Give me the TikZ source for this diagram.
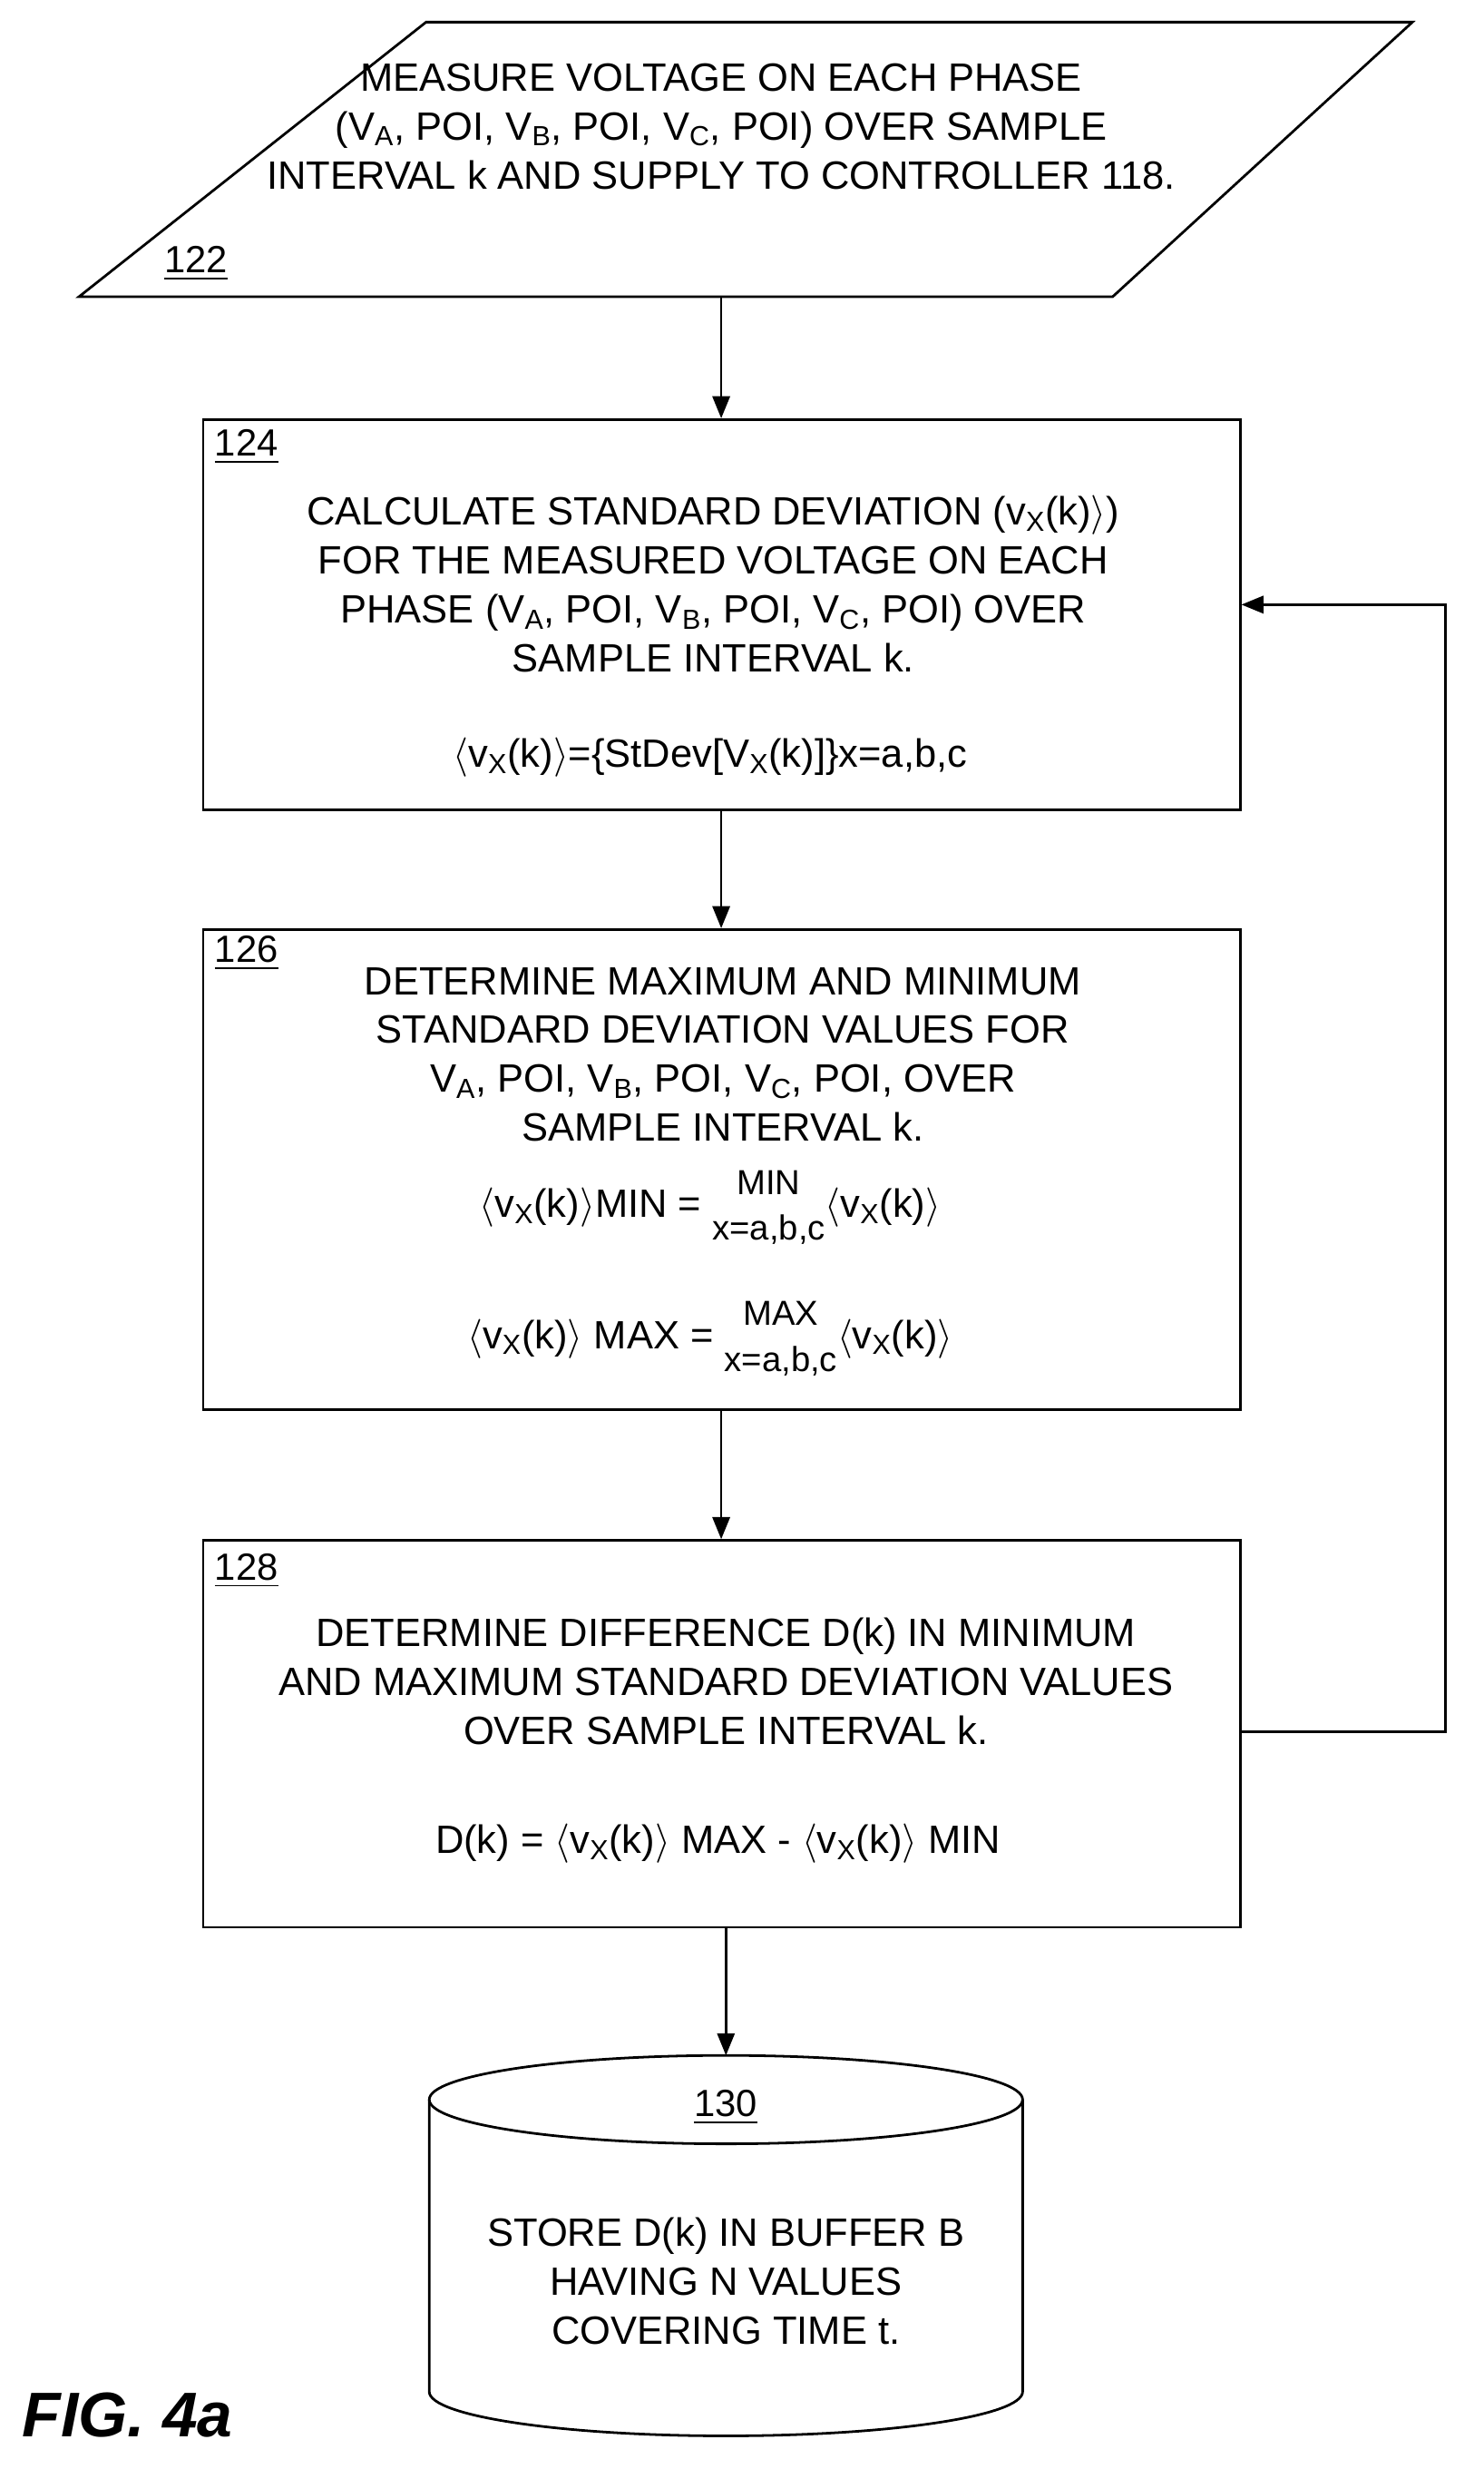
\documentclass[tikz,border=0pt]{standalone}
\usepackage{amsmath}
\usepackage{fontspec}
\setmainfont{Liberation Sans}
\usetikzlibrary{arrows.meta,shapes.geometric}
\newcommand{\sbs}[1]{\textsubscript{#1}}
\newcommand{\la}{$\langle$}
\newcommand{\ra}{$\rangle$}
\newcommand{\opx}[1]{\begin{tabular}{@{}c@{}}\fontsize{22}{20}\selectfont #1\\[-2pt]\fontsize{22}{20}\selectfont x=a,b,c\end{tabular}}
\begin{document}
\begin{tikzpicture}[x=1pt,y=-1pt,
  line width=1.6pt,
  txt/.style={font=\fontsize{25}{31}\selectfont,align=center,anchor=center},
  lbl/.style={font=\fontsize{24}{28}\selectfont,anchor=west},
  arr/.style={-{Triangle[length=14pt,width=11pt]}},
  box/.style={draw,fill=white}]
\useasboundingbox (0,0) rectangle (940,1564);
% 122
\draw (270,14) coordinate (p1) -- (895,14) -- (705,188) -- (50,188) -- cycle;
\node[txt] (t122) at (457,80) {MEASURE VOLTAGE ON EACH PHASE\\(V\sbs{A}, POI, V\sbs{B}, POI, V\sbs{C}, POI) OVER SAMPLE\\INTERVAL k AND SUPPLY TO CONTROLLER 118.};
\node[lbl] (l122) at (100,167) {\underline{122}};
\coordinate (b122) at (457,188);
% 124
\node[box,minimum width=657pt,minimum height=247pt,anchor=north west] (n124) at (128,265) {};
\node[lbl] (l124) at (132,283) {\underline{124}};
\node[txt] (t124) at (452,370) {CALCULATE STANDARD DEVIATION (v\sbs{X}(k)\ra)\\FOR THE MEASURED VOLTAGE ON EACH\\PHASE (V\sbs{A}, POI, V\sbs{B}, POI, V\sbs{C}, POI) OVER\\SAMPLE INTERVAL k.};
\node[txt] (f124) at (450,480) {\la v\sbs{X}(k)\ra=\{StDev[V\sbs{X}(k)]\}x=a,b,c};
% 126
\node[box,minimum width=657pt,minimum height=304pt,anchor=north west] (n126) at (128,588) {};
\node[lbl] (l126) at (132,604) {\underline{126}};
\node[txt] (t126) at (458,668) {DETERMINE MAXIMUM AND MINIMUM\\STANDARD DEVIATION VALUES FOR\\V\sbs{A}, POI, V\sbs{B}, POI, V\sbs{C}, POI, OVER\\SAMPLE INTERVAL k.};
\node[txt] (f126a) at (450,765) {\la v\sbs{X}(k)\ra MIN = \opx{MIN}\la v\sbs{X}(k)\ra};
\node[txt] (f126b) at (450,848) {\la v\sbs{X}(k)\ra\ MAX = \opx{MAX}\la v\sbs{X}(k)\ra};
% 128
\node[box,minimum width=657pt,minimum height=245pt,anchor=north west] (n128) at (128,975) {};
\node[lbl] (l128) at (132,995) {\underline{128}};
\node[txt] (t128) at (460,1065) {DETERMINE DIFFERENCE D(k) IN MINIMUM\\AND MAXIMUM STANDARD DEVIATION VALUES\\OVER SAMPLE INTERVAL k.};
\node[txt] (f128) at (455,1168) {D(k) = \la v\sbs{X}(k)\ra\ MAX - \la v\sbs{X}(k)\ra\ MIN};
% 130 cylinder
\draw[fill=white] (272,1330) -- (272,1515) arc[start angle=180,end angle=0,x radius=188,y radius=28] -- (648,1330);
\draw (460,1330) ellipse[x radius=188,y radius=28];
\coordinate (c130) at (460,1302);
\node[lbl,anchor=center] (l130) at (460,1335) {\underline{130}};
\node[txt] (t130) at (460,1445) {STORE D(k) IN BUFFER B\\HAVING N VALUES\\COVERING TIME t.};
% arrows
\draw[arr] (b122) -- (n124.north -| b122);
\draw[arr] (n124.south -| b122) -- (n126.north -| b122);
\draw[arr] (n126.south -| b122) -- (n128.north -| b122);
\draw[arr] (n128.south -| c130) -- (c130);
\coordinate (r1) at (916,1097);
\coordinate (r2) at (916,383);
\draw[arr] (n128.east |- r1) -- (r1) -- (r2) -- (n124.east |- r2);
\node[font=\fontsize{40}{44}\selectfont\bfseries\itshape,anchor=west] (fig) at (10,1530) {FIG. 4a};
\end{tikzpicture}
\end{document}
